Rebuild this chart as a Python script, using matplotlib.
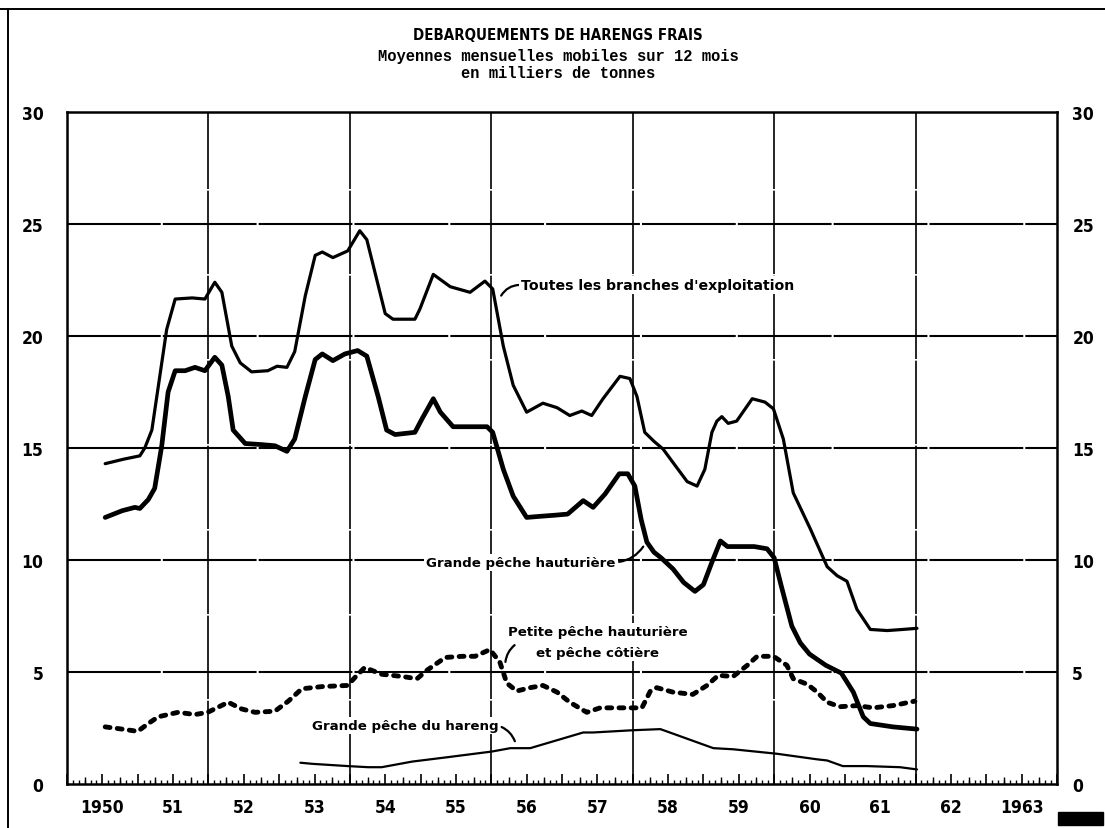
import numpy as np
import matplotlib
matplotlib.use('Agg')
import matplotlib.pyplot as plt
from matplotlib import font_manager as fm
from matplotlib.ticker import FixedLocator, FixedFormatter, MultipleLocator
from matplotlib.lines import Line2D
from matplotlib.patches import Rectangle

# ---------------- data ----------------
tot_x = [1950.54, 1950.8, 1951.03, 1951.1, 1951.2, 1951.41, 1951.53, 1951.77, 1951.95, 1952.09,
         1952.19, 1952.33, 1952.45, 1952.61, 1952.84, 1952.97, 1953.11, 1953.22, 1953.37, 1953.51,
         1953.61, 1953.76, 1953.97, 1954.14, 1954.24, 1954.5, 1954.61, 1954.92, 1954.99, 1955.18,
         1955.42, 1955.7, 1955.91, 1956.02, 1956.17, 1956.31, 1956.5, 1956.73, 1956.93, 1957.11,
         1957.28, 1957.42, 1957.58, 1957.82, 1957.96, 1958.06, 1958.17, 1958.3, 1958.43, 1958.57,
         1958.77, 1958.91, 1959.02, 1959.12, 1959.19, 1959.26, 1959.35, 1959.47, 1959.69, 1959.87,
         1959.99, 1960.13, 1960.27, 1960.51, 1960.75, 1960.89, 1961.03, 1961.17, 1961.36, 1961.6,
         1961.82, 1962.02]
tot_y = [14.3, 14.5, 14.65, 15.0, 15.8, 20.3, 21.65, 21.7, 21.65, 22.4,
         21.95, 19.55, 18.8, 18.4, 18.45, 18.65, 18.6, 19.3, 21.8, 23.6,
         23.75, 23.5, 23.8, 24.7, 24.3, 21.0, 20.75, 20.75, 21.2, 22.75,
         22.2, 21.95, 22.45, 22.1, 19.55, 17.8, 16.6, 17.0, 16.8, 16.45,
         16.65, 16.45, 17.2, 18.2, 18.1, 17.3, 15.7, 15.3, 14.95, 14.35,
         13.5, 13.3, 14.05, 15.7, 16.2, 16.4, 16.1, 16.2, 17.2, 17.05,
         16.75, 15.4, 13.0, 11.4, 9.7, 9.3, 9.05, 7.8, 6.9, 6.85,
         6.9, 6.95]

gph_x = [1950.54, 1950.78, 1950.96, 1951.03, 1951.15, 1951.24, 1951.34, 1951.43, 1951.53, 1951.67,
         1951.81, 1951.95, 1952.09, 1952.19, 1952.28, 1952.35, 1952.52, 1952.76, 1952.94, 1953.11,
         1953.22, 1953.37, 1953.51, 1953.61, 1953.76, 1953.93, 1954.11, 1954.24, 1954.4, 1954.52,
         1954.64, 1954.92, 1955.02, 1955.18, 1955.28, 1955.46, 1955.7, 1955.94, 1956.02, 1956.17,
         1956.31, 1956.5, 1956.69, 1956.9, 1957.08, 1957.3, 1957.44, 1957.61, 1957.81, 1957.93,
         1958.03, 1958.12, 1958.2, 1958.3, 1958.4, 1958.57, 1958.72, 1958.88, 1959.0, 1959.12,
         1959.24, 1959.34, 1959.5, 1959.72, 1959.9, 1960.0, 1960.1, 1960.25, 1960.37, 1960.5,
         1960.73, 1960.95, 1961.12, 1961.26, 1961.36, 1961.68, 1962.02]
gph_y = [11.9, 12.2, 12.35, 12.3, 12.7, 13.2, 15.1, 17.5, 18.45, 18.45,
         18.6, 18.45, 19.05, 18.7, 17.3, 15.8, 15.2, 15.15, 15.1, 14.85,
         15.4, 17.3, 18.95, 19.2, 18.9, 19.2, 19.35, 19.1, 17.3, 15.8,
         15.6, 15.7, 16.3, 17.2, 16.6, 15.95, 15.95, 15.95, 15.7, 14.05,
         12.85, 11.9, 11.95, 12.0, 12.05, 12.65, 12.35, 12.95, 13.85, 13.85,
         13.3, 11.8, 10.8, 10.35, 10.1, 9.6, 9.0, 8.6, 8.9, 9.9,
         10.85, 10.6, 10.6, 10.6, 10.5, 10.1, 8.85, 7.05, 6.3, 5.8,
         5.3, 4.95, 4.1, 3.0, 2.7, 2.55, 2.45]

pph_x = [1950.54, 1950.78, 1951.0, 1951.15, 1951.29, 1951.57, 1951.81, 1951.99, 1952.28, 1952.47,
         1952.66, 1952.94, 1953.13, 1953.32, 1953.61, 1953.97, 1954.07, 1954.21, 1954.45, 1954.74,
         1954.95, 1955.1, 1955.35, 1955.59, 1955.77, 1955.98, 1956.12, 1956.22, 1956.36, 1956.55,
         1956.73, 1956.93, 1957.11, 1957.35, 1957.54, 1957.78, 1958.0, 1958.13, 1958.25, 1958.34,
         1958.57, 1958.85, 1959.05, 1959.21, 1959.42, 1959.62, 1959.76, 1959.99, 1960.18, 1960.27,
         1960.47, 1960.61, 1960.75, 1960.93, 1961.17, 1961.4, 1961.68, 1961.99]
pph_y = [2.55, 2.45, 2.35, 2.7, 3.0, 3.2, 3.1, 3.2, 3.65, 3.35,
         3.2, 3.25, 3.7, 4.25, 4.35, 4.4, 4.75, 5.2, 4.9, 4.8,
         4.7, 5.1, 5.65, 5.7, 5.7, 6.0, 5.45, 4.5, 4.15, 4.3,
         4.4, 4.1, 3.65, 3.2, 3.4, 3.4, 3.4, 3.4, 4.15, 4.3,
         4.1, 4.0, 4.4, 4.85, 4.8, 5.3, 5.7, 5.7, 5.3, 4.7,
         4.45, 4.1, 3.65, 3.45, 3.5, 3.4, 3.5, 3.7]

har_x = [1953.3, 1953.47, 1953.97, 1954.26, 1954.45, 1954.88, 1955.39, 1956.01, 1956.27, 1956.55,
         1957.3, 1957.44, 1958.0, 1958.39, 1958.48, 1959.14, 1959.42, 1960.04, 1960.61, 1960.75,
         1960.97, 1961.31, 1961.78, 1962.02]
har_y = [0.95, 0.9, 0.8, 0.75, 0.75, 1.0, 1.2, 1.45, 1.6, 1.6,
         2.3, 2.3, 2.4, 2.45, 2.35, 1.6, 1.55, 1.35, 1.1, 1.05,
         0.8, 0.8, 0.75, 0.65]

year_labels = ['1950', '51', '52', '53', '54', '55', '56', '57', '58', '59', '60', '61', '62', '1963']
y_ticks = [0, 5, 10, 15, 20, 25, 30]

title_lines = ['DEBARQUEMENTS DE HARENGS FRAIS',
               'Moyennes mensuelles mobiles sur 12 mois',
               'en milliers de tonnes']

# ---------------- fonts ----------------
def _has(fam):
    try:
        fm.findfont(fm.FontProperties(family=fam), fallback_to_default=False)
        return True
    except Exception:
        return False

cond_stretch = 'normal'
if _has('Liberation Sans Narrow'):
    narrow = ['Liberation Sans Narrow', 'DejaVu Sans']
else:
    p = fm.findfont(fm.FontProperties(family='DejaVu Sans', stretch='condensed', weight='bold'))
    if 'ondensed' in p:
        narrow = ['DejaVu Sans', 'DejaVu Sans']
        cond_stretch = 'condensed'
    else:
        narrow = ['Liberation Sans', 'DejaVu Sans']
mono = ['Liberation Mono', 'DejaVu Sans Mono']
annot = ['DejaVu Sans']

# ---------------- figure ----------------
fig = plt.figure(figsize=(11.05, 8.29), dpi=100)
ax = fig.add_axes([67/1105, 44/829, 990/1105, 672/829])

ax.set_xlim(1950, 1964)
ax.set_ylim(0, 30)

# grid
for v in [5, 10, 15, 20, 25]:
    ax.axhline(v, color='black', lw=1.5, ls=(0, (45, 1.0)), zorder=1)
for v in [1952, 1954, 1956, 1958, 1960, 1962]:
    ax.axvline(v, color='black', lw=1.2, ls=(0, (50, 1.0)), zorder=1)

# series
ax.plot(tot_x, tot_y, color='black', lw=2.3, solid_joinstyle='round', solid_capstyle='round', zorder=3)
ax.plot(gph_x, gph_y, color='black', lw=3.4, solid_joinstyle='round', solid_capstyle='round', zorder=3)
ax.plot(pph_x, pph_y, color='black', lw=3.5, ls=(0, (1.0, 1.5)), dash_capstyle='round', zorder=3)
ax.plot(har_x, har_y, color='black', lw=1.6, solid_joinstyle='round', solid_capstyle='round', zorder=3)

for s in ax.spines.values():
    s.set_linewidth(1.8)
    s.set_zorder(5)

# x ticks
half_years = list(np.arange(1950, 1964.01, 0.5))
ax.xaxis.set_major_locator(FixedLocator(half_years))
lab = []
for t in half_years:
    if abs(t - round(t)) > 0.1:
        lab.append(year_labels[int(t - 1950)])
    else:
        lab.append('')
ax.xaxis.set_major_formatter(FixedFormatter(lab))
ax.xaxis.set_minor_locator(MultipleLocator(1/12))
ax.tick_params(axis='x', which='major', direction='in', length=7, width=1.2, pad=10)
ax.tick_params(axis='x', which='minor', direction='in', length=3, width=1.0)
for tl in ax.get_xticklabels():
    tl.set_fontfamily(narrow)
    tl.set_fontweight('bold')
    tl.set_fontstretch(cond_stretch)
    tl.set_fontsize(12.5)

sec = ax.secondary_xaxis('bottom')
sec.set_xticks(list(np.arange(1950.25, 1964, 0.5)))
sec.tick_params(direction='in', length=5, width=1.0, labelbottom=False)
sec.spines['bottom'].set_visible(False)

# y labels: left on main axes, right on twin axes
ax.set_yticks(y_ticks)
ax.set_yticklabels([str(v) for v in y_ticks])
ax.tick_params(axis='y', length=0, pad=17)
for tl in ax.get_yticklabels():
    tl.set_fontfamily(narrow)
    tl.set_fontweight('bold')
    tl.set_fontstretch(cond_stretch)
    tl.set_fontsize(12.5)

axr = ax.twinx()
axr.set_ylim(0, 30)
axr.set_yticks(y_ticks)
axr.set_yticklabels([str(v) for v in y_ticks])
axr.tick_params(axis='y', length=0, pad=11)
for tl in axr.get_yticklabels():
    tl.set_fontfamily(narrow)
    tl.set_fontweight('bold')
    tl.set_fontstretch(cond_stretch)
    tl.set_fontsize(12.5)
for s in axr.spines.values():
    s.set_visible(False)

# title
fig.text(0.505, 1 - 36/829, title_lines[0], ha='center', va='center', fontsize=10.8,
         fontweight='bold', family=narrow, fontstretch=cond_stretch)
fig.text(0.505, 1 - 56/829, title_lines[1], ha='center', va='center', fontsize=11.2,
         fontweight='bold', family=mono)
fig.text(0.505, 1 - 73/829, title_lines[2], ha='center', va='center', fontsize=11.2,
         fontweight='bold', family=mono)

# annotations
bb = dict(boxstyle='square,pad=0.15', fc='white', ec='none')
ax.annotate("Toutes les branches d'exploitation", xy=(1956.13, 21.75), xytext=(1956.42, 22.28),
            ha='left', va='center', fontsize=10.2, fontweight='bold', family=annot, bbox=bb,
            arrowprops=dict(arrowstyle='-', color='black', lw=1.6, shrinkA=0, shrinkB=1,
                            relpos=(0, 0.5), connectionstyle='arc3,rad=0.3'), zorder=6)
ax.annotate("Grande pêche hauturière", xy=(1958.16, 10.65), xytext=(1957.76, 9.9),
            ha='right', va='center', fontsize=9.6, fontweight='bold', family=annot, bbox=bb,
            arrowprops=dict(arrowstyle='-', color='black', lw=1.6, shrinkA=1, shrinkB=1,
                            relpos=(1, 0.5), connectionstyle='arc3,rad=0.25'), zorder=6)
ax.text(1957.5, 6.34, "Petite pêche hauturière\net pêche côtière", ha='center', va='center',
        fontsize=9.6, fontweight='bold', family=annot, linespacing=1.75, bbox=bb, zorder=6)
ax.annotate("", xy=(1956.2, 5.45), xytext=(1956.33, 6.2),
            arrowprops=dict(arrowstyle='-', color='black', lw=1.6, shrinkA=0, shrinkB=0,
                            connectionstyle='arc3,rad=0.2'), zorder=6)
ax.annotate("Grande pêche du hareng", xy=(1956.34, 1.85), xytext=(1956.1, 2.6),
            ha='right', va='center', fontsize=9.6, fontweight='bold', family=annot, bbox=bb,
            arrowprops=dict(arrowstyle='-', color='black', lw=1.6, shrinkA=1, shrinkB=1,
                            relpos=(1, 0.5), connectionstyle='arc3,rad=-0.25'), zorder=6)

# scan frame lines and stamp
fig.add_artist(Line2D([0, 1], [1 - 10/829, 1 - 10/829], transform=fig.transFigure,
                      color='black', lw=1.4))
fig.add_artist(Line2D([8/1105, 8/1105], [0, 1 - 10/829], transform=fig.transFigure,
                      color='black', lw=1.4))
fig.add_artist(Rectangle((1058/1105, 3/829), 45/1105, 13/829, transform=fig.transFigure,
                         fc='black', ec='black'))

fig.savefig('out.png', dpi=100)
